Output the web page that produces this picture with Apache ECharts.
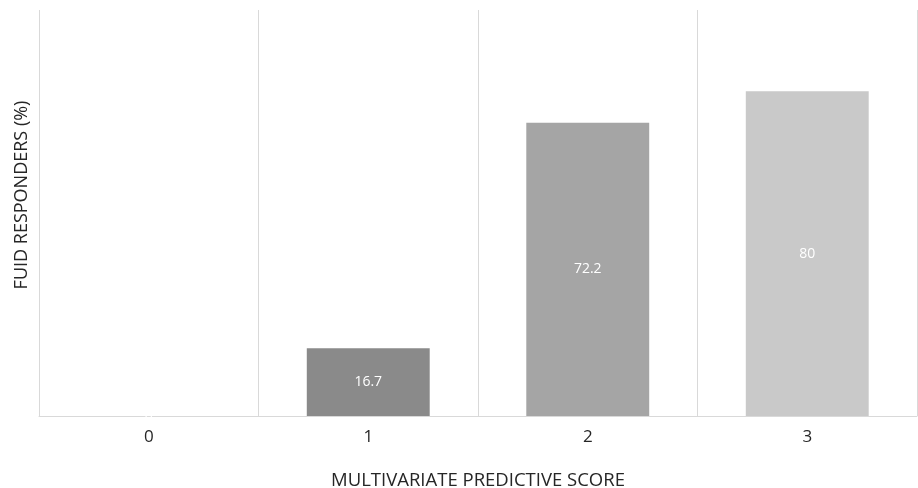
<!DOCTYPE html>
<html><head><meta charset="utf-8">
<script src="https://cdn.jsdelivr.net/npm/echarts@6/dist/echarts.min.js"></script>
<style>html,body{margin:0;padding:0;background:#fff}#c{width:918px;height:488px}</style>
</head><body><div id="c"></div>
<script>
const categories = ['0', '1', '2', '3'];
const values = [0, 16.7, 72.2, 80];
const barColors = ['#8a8a8a', '#8a8a8a', '#a5a5a5', '#c9c9c9'];
const chart = echarts.init(document.getElementById('c'));
chart.setOption({
  animation: false,
  grid: { left: 39, right: 1, top: 10, bottom: 72, containLabel: false, outerBoundsMode: 'none' },
  xAxis: {
    type: 'category', data: categories,
    axisLine: { lineStyle: { color: '#d9d9d9' } },
    axisTick: { show: false },
    axisLabel: { color: '#262626', fontSize: 17, fontFamily: 'Open Sans', margin: 13 },
    splitLine: { show: true, lineStyle: { color: '#d9d9d9' } },
    name: 'MULTIVARIATE PREDICTIVE SCORE', nameLocation: 'middle', nameGap: 55,
    nameTextStyle: { color: '#262626', fontSize: 18.5, fontFamily: 'Open Sans' }
  },
  yAxis: {
    type: 'value', min: 0, max: 100,
    axisLine: { show: false }, axisTick: { show: false }, axisLabel: { show: false },
    splitLine: { show: false },
    name: 'FUID RESPONDERS (%)', nameLocation: 'middle', nameGap: 8,
    nameTextStyle: { color: '#262626', fontSize: 18, fontFamily: 'Open Sans', padding: [0, 0, 0, 36] }
  },
  series: [{
    type: 'bar', barWidth: '56%',
    data: values.map((v, i) => ({ value: v, itemStyle: { color: barColors[i] } })),
    label: { show: true, position: 'inside', color: '#fff', fontSize: 14, fontFamily: 'Open Sans' }
  }]
});
</script></body></html>
